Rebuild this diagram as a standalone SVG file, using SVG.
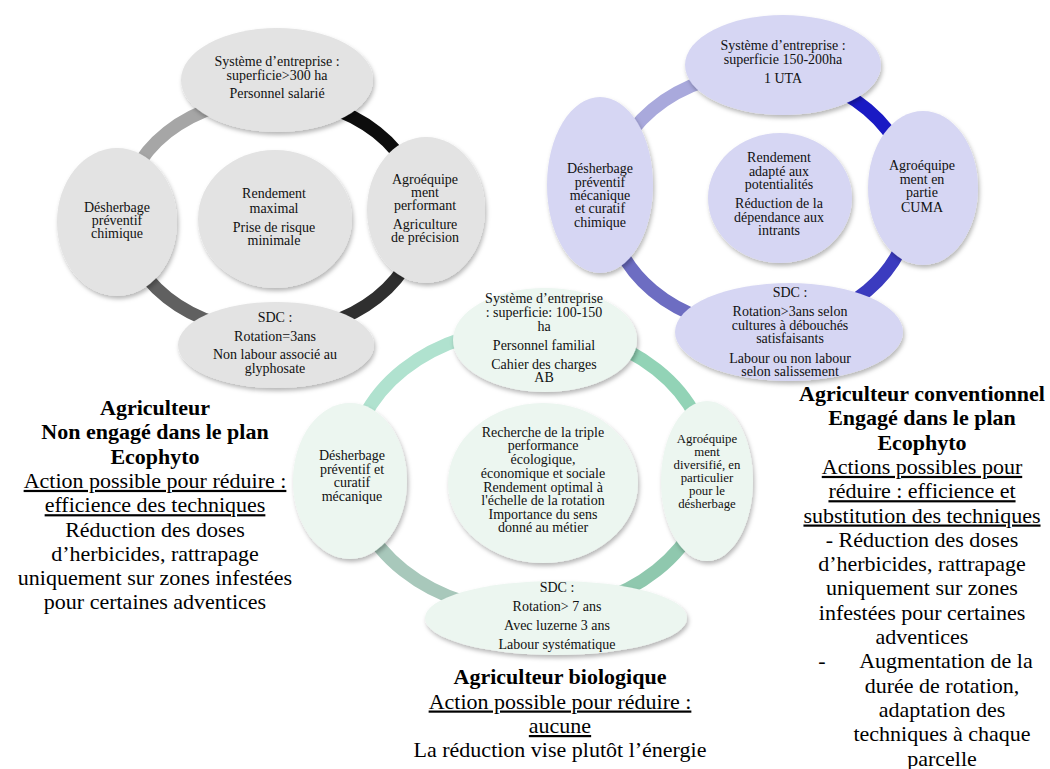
<svg xmlns="http://www.w3.org/2000/svg" width="1050" height="769" viewBox="0 0 1050 769">
<defs>
<filter id="sh" x="-20%" y="-20%" width="140%" height="150%">
<feDropShadow dx="1.5" dy="3" stdDeviation="2" flood-color="#000" flood-opacity="0.28"/>
</filter>
<style>
.n{font-family:"Liberation Serif","Times New Roman",serif;font-size:14px;text-anchor:middle;fill:#111}
.s{font-size:12.8px}
.g{fill:#e3e3e3;filter:url(#sh)}
.p{fill:#d6d6f3;filter:url(#sh)}
.m{fill:#ecf6f0;filter:url(#sh)}
.r{fill:none;stroke-width:13}
.t{font-family:"Liberation Serif","Times New Roman",serif;font-size:22px;text-anchor:middle;fill:#000}
.b{font-weight:bold}
.u{text-decoration:underline}
</style>
</defs>
<rect width="1050" height="769" fill="#fff"/>

<g id="connectors">
<path class="r" stroke="#a6a6a6" d="M124,215 A148,117 0 0 1 272,98"/>
<path class="r" stroke="#0d0d0d" d="M272,98 A148,117 0 0 1 420,215"/>
<path class="r" stroke="#2f2f2f" d="M420,215 A148,117 0 0 1 272,332"/>
<path class="r" stroke="#606060" d="M272,332 A148,117 0 0 1 124,215"/>

<path class="r" stroke="#a9a9dc" stroke-width="14" d="M608,200 A152,128 0 0 1 760,72"/>
<path class="r" stroke="#1a1ac4" stroke-width="14" d="M760,72 A152,128 0 0 1 912,200"/>
<path class="r" stroke="#3b3bbf" stroke-width="14" d="M912,200 A152,128 0 0 1 760,328"/>
<path class="r" stroke="#6d6dc2" stroke-width="14" d="M760,328 A152,128 0 0 1 608,200"/>

<path class="r" stroke="#b0e2cf" d="M351,470 A179,142 0 0 1 530,328"/>
<path class="r" stroke="#92d3b6" d="M530,328 A179,142 0 0 1 709,470"/>
<path class="r" stroke="#8fc8ae" d="M709,470 A179,142 0 0 1 530,612"/>
<path class="r" stroke="#a8c8bb" d="M530,612 A179,142 0 0 1 351,470"/>
</g>

<g id="gray-top">
<ellipse class="g" cx="277" cy="80" rx="96" ry="52"/>
<text class="n"><tspan x="277" y="66">Système d’entreprise :</tspan><tspan x="277" y="80">superficie&gt;300 ha</tspan><tspan x="277" y="98">Personnel salarié</tspan></text>
</g>
<g id="gray-left">
<ellipse class="g" cx="117" cy="222" rx="60" ry="74"/>
<text class="n"><tspan x="117" y="212">Désherbage</tspan><tspan x="117" y="225">préventif</tspan><tspan x="117" y="238">chimique</tspan></text>
</g>
<g id="gray-center">
<ellipse class="g" cx="275" cy="219" rx="77" ry="69"/>
<text class="n"><tspan x="274" y="198">Rendement</tspan><tspan x="274" y="213">maximal</tspan><tspan x="274" y="232">Prise de risque</tspan><tspan x="274" y="245">minimale</tspan></text>
</g>
<g id="gray-right">
<ellipse class="g" cx="426" cy="210" rx="59" ry="73"/>
<text class="n"><tspan x="425" y="183.5">Agroéquipe</tspan><tspan x="425" y="197">ment</tspan><tspan x="425" y="210">performant</tspan><tspan x="425" y="229">Agriculture</tspan><tspan x="425" y="242">de précision</tspan></text>
</g>
<g id="gray-bottom">
<ellipse class="g" cx="276" cy="345" rx="98" ry="43"/>
<text class="n"><tspan x="275" y="322">SDC :</tspan><tspan x="275" y="341">Rotation=3ans</tspan><tspan x="275" y="359">Non labour associé au</tspan><tspan x="275" y="373">glyphosate</tspan></text>
</g>

<g id="purple-top">
<ellipse class="p" cx="783" cy="65" rx="98" ry="50"/>
<text class="n"><tspan x="783" y="50">Système d’entreprise :</tspan><tspan x="783" y="64">superficie 150-200ha</tspan><tspan x="783" y="83">1 UTA</tspan></text>
</g>
<g id="purple-left">
<ellipse class="p" cx="600" cy="185" rx="53" ry="88"/>
<text class="n"><tspan x="600" y="173">Désherbage</tspan><tspan x="600" y="187">préventif</tspan><tspan x="600" y="200">mécanique</tspan><tspan x="600" y="213">et curatif</tspan><tspan x="600" y="227">chimique</tspan></text>
</g>
<g id="purple-center">
<ellipse class="p" cx="780" cy="198" rx="72" ry="65"/>
<text class="n"><tspan x="779" y="162">Rendement</tspan><tspan x="779" y="176">adapté aux</tspan><tspan x="779" y="189">potentialités</tspan><tspan x="779" y="208">Réduction de la</tspan><tspan x="779" y="222">dépendance aux</tspan><tspan x="779" y="235">intrants</tspan></text>
</g>
<g id="purple-right">
<ellipse class="p" cx="923" cy="188" rx="55" ry="77"/>
<text class="n"><tspan x="922" y="170">Agroéquipe</tspan><tspan x="922" y="184">ment en</tspan><tspan x="922" y="197">partie</tspan><tspan x="922" y="212">CUMA</tspan></text>
</g>
<g id="purple-bottom">
<ellipse class="p" cx="789" cy="332" rx="114" ry="49"/>
<text class="n"><tspan x="790" y="297">SDC :</tspan><tspan x="790" y="316">Rotation&gt;3ans selon</tspan><tspan x="790" y="330">cultures à débouchés</tspan><tspan x="790" y="343">satisfaisants</tspan><tspan x="790" y="363">Labour ou non labour</tspan><tspan x="790" y="376">selon salissement</tspan></text>
</g>

<g id="green-top">
<ellipse class="m" cx="545" cy="340" rx="92" ry="52"/>
<text class="n"><tspan x="544" y="303">Système d’entreprise</tspan><tspan x="544" y="317">: superficie: 100-150</tspan><tspan x="544" y="331">ha</tspan><tspan x="544" y="350">Personnel familial</tspan><tspan x="544" y="369">Cahier des charges</tspan><tspan x="544" y="382">AB</tspan></text>
</g>
<g id="green-left">
<ellipse class="m" cx="350" cy="481" rx="57" ry="78"/>
<text class="n"><tspan x="352" y="460">Désherbage</tspan><tspan x="352" y="474">préventif et</tspan><tspan x="352" y="487">curatif</tspan><tspan x="352" y="501">mécanique</tspan></text>
</g>
<g id="green-center">
<ellipse class="m" cx="543" cy="483" rx="95" ry="80"/>
<text class="n"><tspan x="543" y="437">Recherche de la triple</tspan><tspan x="543" y="450">performance</tspan><tspan x="543" y="464">écologique,</tspan><tspan x="543" y="478">économique et sociale</tspan><tspan x="543" y="492">Rendement optimal à</tspan><tspan x="543" y="505">l'échelle de la rotation</tspan><tspan x="543" y="519">Importance du sens</tspan><tspan x="543" y="532">donné au métier</tspan></text>
</g>
<g id="green-right">
<ellipse class="m" cx="707" cy="481" rx="46" ry="80"/>
<text class="n s"><tspan x="707" y="443">Agroéquipe</tspan><tspan x="707" y="456">ment</tspan><tspan x="707" y="469">diversifié, en</tspan><tspan x="707" y="482">particulier</tspan><tspan x="707" y="495">pour le</tspan><tspan x="707" y="508">désherbage</tspan></text>
</g>
<g id="green-bottom">
<ellipse class="m" cx="556" cy="618" rx="131" ry="37"/>
<text class="n"><tspan x="557" y="592">SDC :</tspan><tspan x="557" y="611">Rotation&gt; 7 ans</tspan><tspan x="557" y="630">Avec luzerne 3 ans</tspan><tspan x="557" y="649">Labour systématique</tspan></text>
</g>

<g id="label-left">
<text class="t"><tspan class="b" x="155" y="415">Agriculteur</tspan><tspan class="b" x="155" y="439.3">Non engagé dans le plan</tspan><tspan class="b" x="155" y="463.6">Ecophyto</tspan></text>
<text class="t u" x="155" y="487.9">Action possible pour réduire :</text>
<text class="t u" x="155" y="512.2">efficience des techniques</text>
<text class="t"><tspan x="155" y="536.5">Réduction des doses</tspan><tspan x="155" y="560.8">d’herbicides, rattrapage</tspan><tspan x="155" y="585.1">uniquement sur zones infestées</tspan><tspan x="155" y="609.4">pour certaines adventices</tspan></text>
</g>

<g id="label-middle">
<text class="t b" x="560" y="684">Agriculteur biologique</text>
<text class="t u" x="560" y="708.5">Action possible pour réduire :</text>
<text class="t u" x="560" y="733">aucune</text>
<text class="t" x="560" y="757">La réduction vise plutôt l’énergie</text>
</g>

<g id="label-right">
<text class="t"><tspan class="b" x="922" y="401">Agriculteur conventionnel</tspan><tspan class="b" x="922" y="425.3">Engagé dans le plan</tspan><tspan class="b" x="922" y="449.6">Ecophyto</tspan></text>
<text class="t u" x="922" y="473.9">Actions possibles pour</text>
<text class="t u" x="922" y="498.2">réduire : efficience et</text>
<text class="t u" x="922" y="522.5">substitution des techniques</text>
<text class="t"><tspan x="922" y="546.8">- Réduction des doses</tspan><tspan x="922" y="571.1">d’herbicides, rattrapage</tspan><tspan x="922" y="595.4">uniquement sur zones</tspan><tspan x="922" y="619.7">infestées pour certaines</tspan><tspan x="922" y="644">adventices</tspan></text>
<text class="t" x="822" y="668.3">-</text>
<text class="t" x="946" y="668.3">Augmentation de la</text>
<text class="t"><tspan x="942" y="692.6">durée de rotation,</tspan><tspan x="942" y="716.9">adaptation des</tspan><tspan x="942" y="741.2">techniques à chaque</tspan><tspan x="942" y="765.5">parcelle</tspan></text>
</g>
</svg>
